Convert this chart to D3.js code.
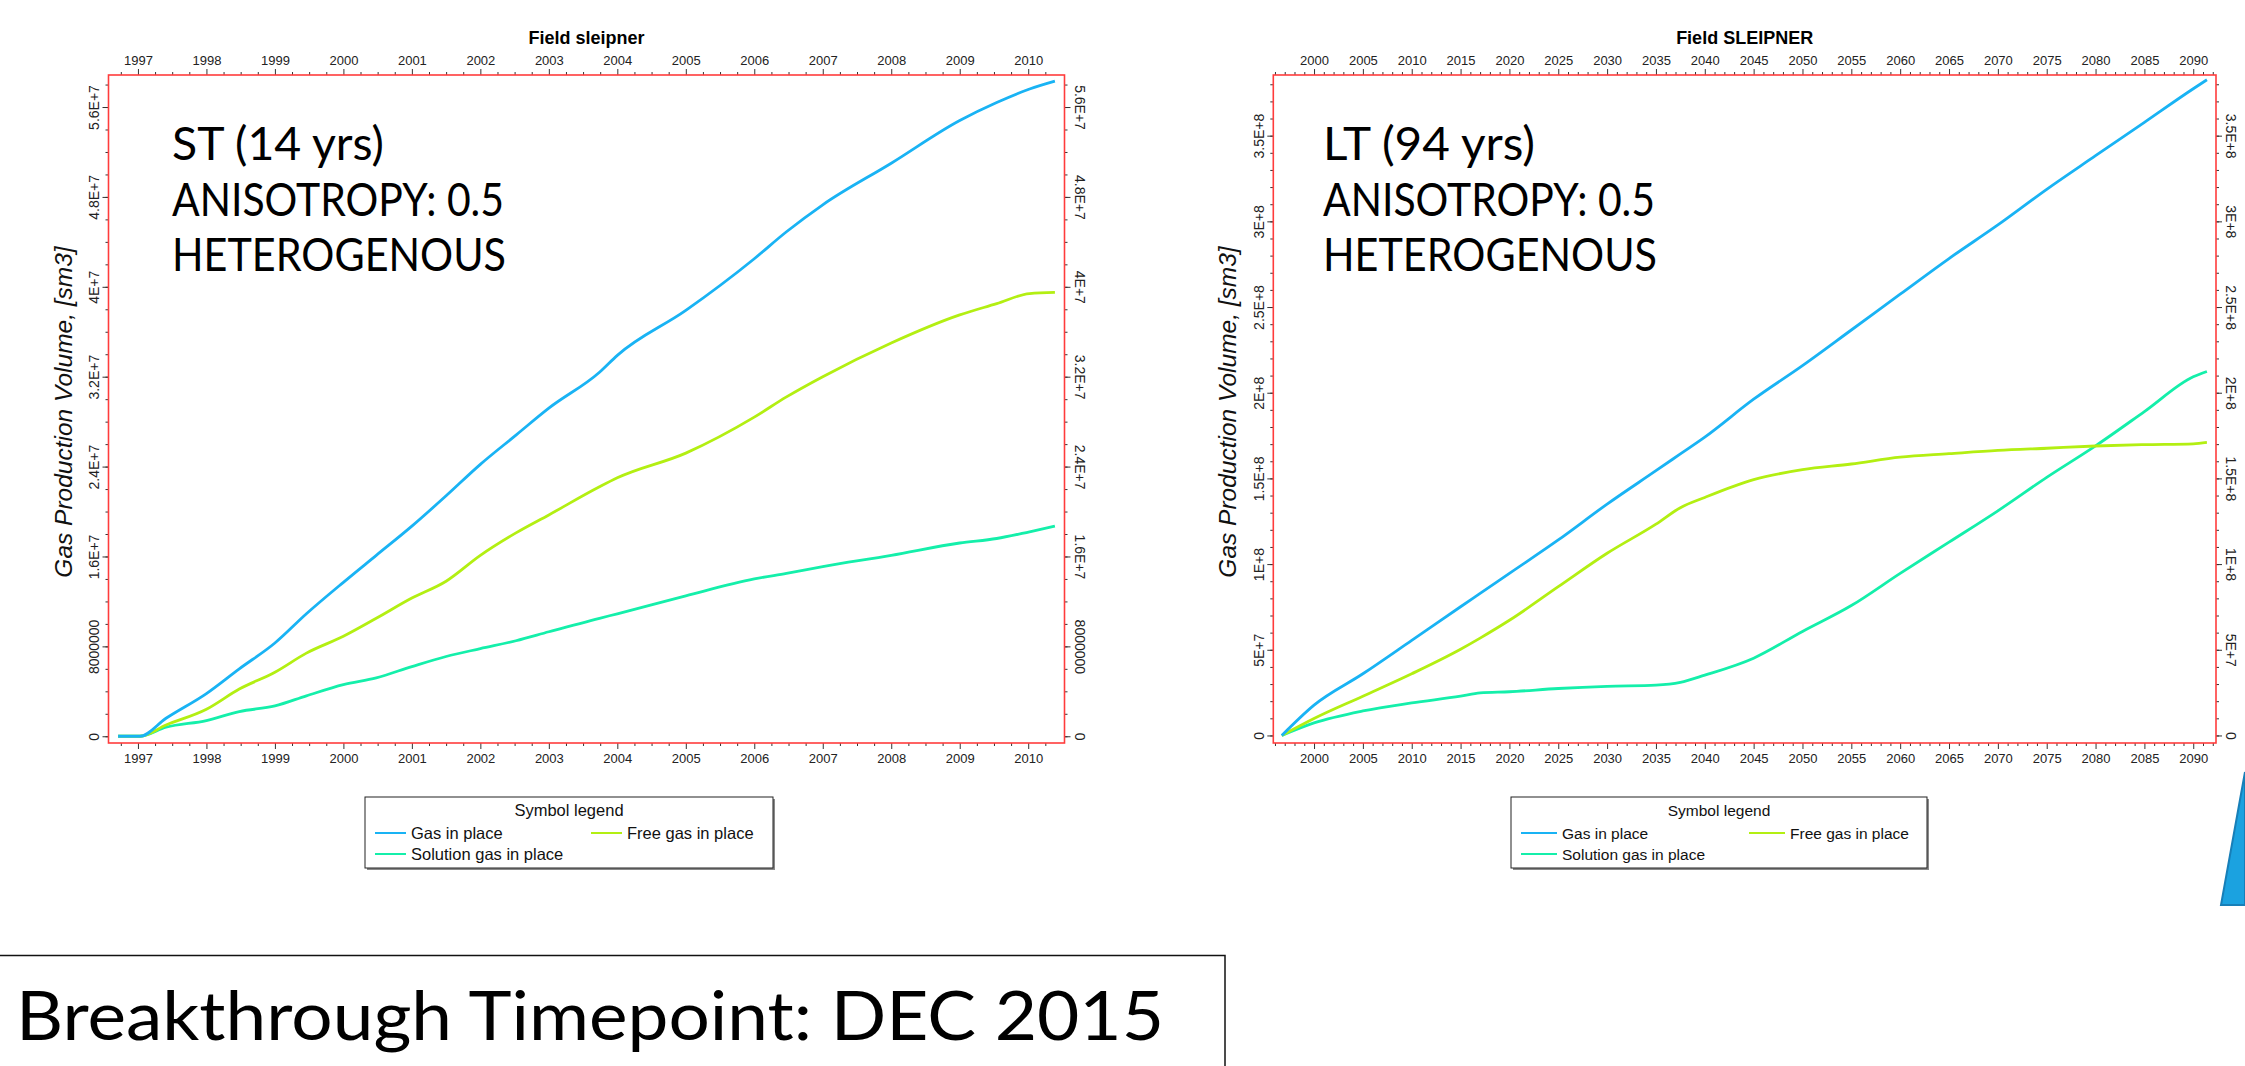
<!DOCTYPE html>
<html>
<head>
<meta charset="utf-8">
<script src="https://cdn.jsdelivr.net/npm/d3@7"></script>
<style>
  body { margin: 0; background: #fff; }
  svg { display: block; }
</style>
</head>
<body>
<svg id="chart" width="2245" height="1066"></svg>
<script>
// ---- series metadata ----
const seriesNames = ["Gas in place", "Free gas in place", "Solution gas in place"];
const seriesColors = ["#19b3f4", "#b3ef12", "#14efaa"];

// ---- short-term run (values in million sm3) ----
const stYears = [1996.71, 1997.03, 1997.41, 1998.0, 1998.48, 1999.0, 1999.46, 2000.0, 2000.48,
  2001.0, 2001.5, 2002.0, 2002.52, 2003.0, 2003.74, 2004.0, 2005.0, 2006.0, 2006.47, 2007.0,
  2008.0, 2009.0, 2009.54, 2010.02, 2010.39];
const stGas = [0, 0, 1.6, 3.8, 6.0, 8.3, 10.9, 13.7, 16.1, 18.7, 21.4, 24.2, 26.8, 29.2, 32.4,
  33.9, 37.9, 42.5, 44.9, 47.3, 51.0, 54.8, 56.4, 57.6, 58.3];
const stFree = [0, 0, 1.0, 2.4, 4.2, 5.7, 7.4, 8.9, 10.5, 12.3, 13.8, 16.1, 18.1, 19.7, 22.2,
  23.0, 25.2, 28.4, 30.2, 32.0, 35.0, 37.5, 38.5, 39.4, 39.5];
const stSolution = [0, 0, 0.8, 1.4, 2.2, 2.7, 3.6, 4.6, 5.2, 6.2, 7.1, 7.8, 8.5, 9.3, 10.5,
  10.9, 12.5, 14.0, 14.5, 15.1, 16.1, 17.2, 17.6, 18.2, 18.7];
const stXTicks = d3.range(1997, 2011);
const stYTicks = [0, 8e6, 1.6e7, 2.4e7, 3.2e7, 4e7, 4.8e7, 5.6e7];
const stYTickLabels = ["0", "8000000", "1.6E+7", "2.4E+7", "3.2E+7", "4E+7", "4.8E+7", "5.6E+7"];
const stNotes = ["ST (14 yrs)", "ANISOTROPY: 0.5", "HETEROGENOUS"];

// ---- long-term run (values in million sm3) ----
const ltYears = [1996.7, 2000, 2005, 2010, 2015, 2017, 2020, 2025, 2030, 2035, 2037.5, 2040,
  2045, 2050, 2055, 2060, 2065, 2070, 2075, 2080, 2085, 2090, 2091.4];
const ltGas = [0, 17.7, 36.0, 55.5, 75.1, 82.9, 94.6, 114.1, 135.0, 154.5, 164.3, 174.1,
  196.2, 215.8, 236.6, 257.5, 278.3, 297.9, 318.7, 338.3, 357.8, 377.4, 382.6];
const ltFree = [0, 9.9, 22.9, 36.0, 50.3, 56.8, 67.2, 86.8, 106.3, 123.3, 132.9, 138.9,
  149.3, 155.1, 158.4, 162.4, 164.4, 166.3, 167.6, 168.9, 169.7, 170.2, 171.0];
const ltSolution = [0, 7.3, 14.3, 19.0, 22.9, 24.8, 25.5, 27.4, 28.7, 29.4, 31.0, 35.2,
  45.1, 60.7, 75.8, 94.6, 112.8, 131.1, 150.6, 169.0, 189.0, 209.3, 212.4];
const ltXTicks = d3.range(2000, 2091, 5);
const ltYTicks = [0, 5e7, 1e8, 1.5e8, 2e8, 2.5e8, 3e8, 3.5e8];
const ltYTickLabels = ["0", "5E+7", "1E+8", "1.5E+8", "2E+8", "2.5E+8", "3E+8", "3.5E+8"];
const ltNotes = ["LT (94 yrs)", "ANISOTROPY: 0.5", "HETEROGENOUS"];

const footerText = "Breakthrough Timepoint: DEC 2015";
const yAxisTitle = "Gas Production Volume, [sm3]";

// ---- drawing ----
const svg = d3.select("#chart");
svg.append("rect").attr("width", 2245).attr("height", 1066).attr("fill", "#fff");

const tickFont = "'Liberation Sans', Arial, sans-serif";
const noteFont = "Lato, 'Open Sans', sans-serif";
// rendered widths of the three annotation lines
const noteWidths = [212, 332, 334];

function panel(cfg) {
  const g = svg.append("g");
  const { left, right, top, bottom } = cfg.frame;
  const x = d3.scaleLinear().domain(cfg.xDomain).range([left, right]);
  const y = d3.scaleLinear().domain(cfg.yDomain).range([bottom, top]);

  // title
  g.append("text")
    .attr("x", (left + right) / 2).attr("y", 44)
    .attr("text-anchor", "middle")
    .attr("font-family", tickFont).attr("font-weight", "bold").attr("font-size", 18)
    .text(cfg.title);

  // x axes: major + minor ticks, top and bottom
  const fmtYear = d3.format("d");
  const styleAxis = sel => {
    sel.select(".domain").remove();
    sel.selectAll(".tick line").attr("stroke", "#333").attr("stroke-width", 1);
    sel.selectAll(".tick text").attr("font-family", tickFont).attr("font-size", 13).attr("fill", "#222");
  };
  g.append("g").attr("transform", `translate(0,${bottom})`)
    .call(d3.axisBottom(x).tickValues(cfg.xTicks).tickSize(6).tickPadding(4.5).tickFormat(fmtYear))
    .call(styleAxis);
  g.append("g").attr("transform", `translate(0,${bottom})`)
    .call(d3.axisBottom(x).tickValues(cfg.xMinor).tickSize(3).tickFormat(""))
    .call(styleAxis);
  g.append("g").attr("transform", `translate(0,${top})`)
    .call(d3.axisTop(x).tickValues(cfg.xTicks).tickSize(6).tickPadding(4.5).tickFormat(fmtYear))
    .call(styleAxis);
  g.append("g").attr("transform", `translate(0,${top})`)
    .call(d3.axisTop(x).tickValues(cfg.xMinor).tickSize(3).tickFormat(""))
    .call(styleAxis);

  // y axes: rotated labels on both sides
  const labelOf = d => cfg.yTickLabels[cfg.yTicks.indexOf(d)];
  const leftAxis = g.append("g").attr("transform", `translate(${left},0)`)
    .call(d3.axisLeft(y).tickValues(cfg.yTicks).tickSize(6).tickFormat(labelOf))
    .call(styleAxis);
  leftAxis.selectAll(".tick text")
    .attr("font-size", 14).attr("text-anchor", "middle")
    .attr("x", 0).attr("y", -9.5).attr("dy", 0)
    .attr("transform", "rotate(-90)");
  g.append("g").attr("transform", `translate(${left},0)`)
    .call(d3.axisLeft(y).tickValues(cfg.yMinor).tickSize(3).tickFormat(""))
    .call(styleAxis);
  const rightAxis = g.append("g").attr("transform", `translate(${right},0)`)
    .call(d3.axisRight(y).tickValues(cfg.yTicks).tickSize(6).tickFormat(labelOf))
    .call(styleAxis);
  rightAxis.selectAll(".tick text")
    .attr("font-size", 14).attr("text-anchor", "middle")
    .attr("x", 0).attr("y", -10).attr("dy", 0)
    .attr("transform", "rotate(90)");
  g.append("g").attr("transform", `translate(${right},0)`)
    .call(d3.axisRight(y).tickValues(cfg.yMinor).tickSize(3).tickFormat(""))
    .call(styleAxis);

  // y axis title
  g.append("text")
    .attr("transform", `translate(${left - 37},${(top + bottom) / 2 + 3}) rotate(-90)`)
    .attr("text-anchor", "middle")
    .attr("font-family", tickFont).attr("font-style", "italic").attr("font-size", 24.5)
    .attr("fill", "#111")
    .text(yAxisTitle);

  // series lines
  const clipId = "clip-" + cfg.id;
  g.append("clipPath").attr("id", clipId)
    .append("rect").attr("x", left).attr("y", top).attr("width", right - left).attr("height", bottom - top);
  const line = d3.line().x(d => x(d[0])).y(d => y(d[1])).curve(d3.curveMonotoneX);
  [2, 1, 0].forEach(i => {
    const pts = cfg.years.map((yr, k) => [yr, cfg.series[i][k] * 1e6]);
    g.append("path")
      .attr("clip-path", `url(#${clipId})`)
      .attr("d", line(pts))
      .attr("fill", "none")
      .attr("stroke", seriesColors[i])
      .attr("stroke-width", 2.8)
      .attr("stroke-linejoin", "round");
  });

  // plot frame
  g.append("rect")
    .attr("x", left).attr("y", top).attr("width", right - left).attr("height", bottom - top)
    .attr("fill", "none").attr("stroke", "#ff3c3c").attr("stroke-width", 1.6);

  // annotation block
  cfg.notes.forEach((t, i) => {
    g.append("text")
      .attr("x", cfg.noteX).attr("y", 160 + i * 55.5)
      .attr("font-family", noteFont).attr("font-size", 46).attr("fill", "#000")
      .attr("textLength", noteWidths[i]).attr("lengthAdjust", "spacingAndGlyphs")
      .text(t);
  });

  // legend box
  const lg = cfg.legend;
  const lgLeft = lg.left;
  const lgTop = 797, lgH = 71;
  g.append("rect").attr("x", lgLeft + 2).attr("y", lgTop + 2).attr("width", lg.width).attr("height", lgH)
    .attr("fill", "#8a8a8a");
  g.append("rect").attr("x", lgLeft).attr("y", lgTop).attr("width", lg.width).attr("height", lgH)
    .attr("fill", "#fff").attr("stroke", "#222").attr("stroke-width", 1);
  g.append("text").attr("x", lgLeft + lg.width / 2).attr("y", lgTop + 19)
    .attr("text-anchor", "middle").attr("font-family", tickFont).attr("font-size", lg.font).attr("fill", "#111")
    .text("Symbol legend");
  const slots = [[lg.col1, 36], [lg.col2, 36], [lg.col1, 57]];
  seriesNames.forEach((name, i) => {
    const [cx, cy] = slots[i];
    g.append("line")
      .attr("x1", lgLeft + cx).attr("x2", lgLeft + cx + lg.lineLen)
      .attr("y1", lgTop + cy).attr("y2", lgTop + cy)
      .attr("stroke", seriesColors[i]).attr("stroke-width", 2);
    g.append("text").attr("x", lgLeft + cx + lg.lineLen + 5).attr("y", lgTop + cy + 6)
      .attr("font-family", tickFont).attr("font-size", lg.font).attr("fill", "#111")
      .text(name);
  });
}

panel({
  id: "st", title: "Field sleipner",
  frame: { left: 108.5, right: 1064.5, top: 75, bottom: 743 },
  xDomain: [1996.57, 2010.53], yDomain: [-0.6e6, 58.85e6],
  xTicks: stXTicks, xMinor: d3.range(1996.75, 2010.5, 0.25).filter(v => v % 1 !== 0),
  yTicks: stYTicks, yTickLabels: stYTickLabels, yMinor: d3.range(0, 5.9e7, 2e6),
  years: stYears, series: [stGas, stFree, stSolution],
  notes: stNotes, noteX: 172,
  legend: { left: 365, width: 408, col1: 10, col2: 226, lineLen: 31, font: 16.5 }
});

panel({
  id: "lt", title: "Field SLEIPNER",
  frame: { left: 1273.3, right: 2216, top: 75, bottom: 743 },
  xDomain: [1995.83, 2092.33], yDomain: [-4.4e6, 385.4e6],
  xTicks: ltXTicks, xMinor: d3.range(1996, 2093, 1).filter(v => v % 5 !== 0),
  yTicks: ltYTicks, yTickLabels: ltYTickLabels, yMinor: d3.range(0, 3.86e8, 1e7),
  years: ltYears, series: [ltGas, ltFree, ltSolution],
  notes: ltNotes, noteX: 1323,
  legend: { left: 1511, width: 416, col1: 10, col2: 238, lineLen: 36, font: 15.5 }
});

// breakthrough footer
svg.append("rect").attr("x", -2).attr("y", 955.5).attr("width", 1227).attr("height", 120)
  .attr("fill", "#fff").attr("stroke", "#111").attr("stroke-width", 1.5);
svg.append("text").attr("x", 16).attr("y", 1040)
  .attr("font-family", noteFont).attr("font-size", 68).attr("fill", "#000")
  .attr("textLength", 1148).attr("lengthAdjust", "spacingAndGlyphs")
  .text(footerText);

// blue arrow tip at the right edge
svg.append("path")
  .attr("d", d3.line()([[2221, 905], [2245, 905], [2245, 772]]) + "Z")
  .attr("fill", "#1ba2e0").attr("stroke", "#177fb8").attr("stroke-width", 2);
</script>
</body>
</html>
